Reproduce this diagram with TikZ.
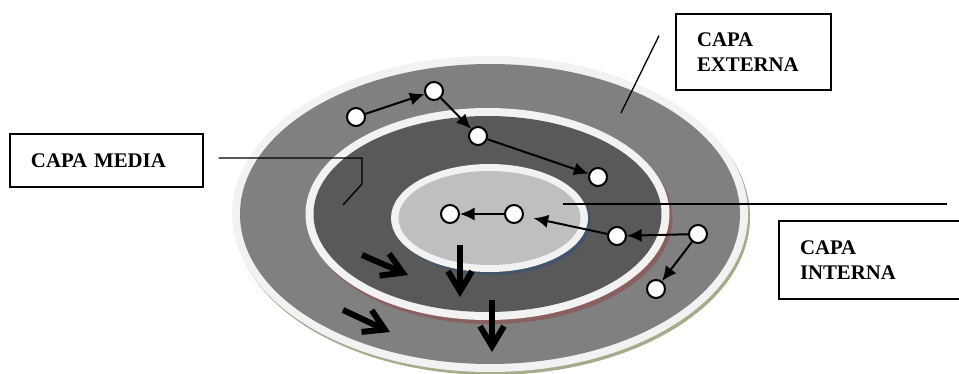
\documentclass[tikz,border=0pt]{standalone}
\usepackage{fontspec}
\setmainfont{Liberation Serif}[BoldFont={Liberation Serif Bold}]
\usetikzlibrary{arrows.meta}
\definecolor{rimwhite}{HTML}{F2F2F2}
\definecolor{outergray}{HTML}{808080}
\definecolor{middlegray}{HTML}{595959}
\definecolor{innergray}{HTML}{BFBFBF}
\definecolor{outershade}{HTML}{A3AD8C}
\definecolor{middleshade}{HTML}{8A5F5F}
\definecolor{innershade}{HTML}{44546A}

\begin{document}
\begin{tikzpicture}[x=0.75pt,y=-0.75pt,
  dot/.style={circle,draw,fill=white,line width=1.5pt,minimum size=13.5pt,inner sep=0pt},
  hop/.style={line width=1.5pt,-{Latex[length=11pt,width=10pt]}},
  flow/.style={line width=4.5pt,-{Straight Barb[length=15pt,width=18pt]}},
  lead/.style={line width=1pt},
  capa/.style={draw,line width=1.5pt,align=left,inner xsep=15.75pt,
    font=\fontsize{15.6}{18.75}\selectfont\bfseries}]
\useasboundingbox (0,0) rectangle (959,374);
\fill[outershade] (492,217) ellipse [x radius=258, y radius=158];
\fill[rimwhite] (490,214) ellipse [x radius=258, y radius=158];
\fill[outergray] (490,214) ellipse [x radius=250, y radius=150];
\fill[middleshade] (490.5,218) ellipse [x radius=182, y radius=106];
\fill[rimwhite] (487.5,214) ellipse [x radius=182, y radius=106];
\fill[middlegray] (487.5,214) ellipse [x radius=174, y radius=98];
\fill[innershade] (492.5,221) ellipse [x radius=98.5, y radius=54];
\fill[rimwhite] (489.5,218) ellipse [x radius=98.5, y radius=54];
\fill[innergray] (489.5,218) ellipse [x radius=91, y radius=47];

\node[capa,text width=113.25pt,minimum height=39.75pt] (media) at (106.5,160.5) {CAPA MEDIA};
\node[capa,text width=84.75pt,minimum height=57pt] (externa) at (753.5,52) {CAPA\\EXTERNA};
\node[capa,text width=111pt,minimum height=58.5pt] (interna) at (874,260) {CAPA\\INTERNA};
\coordinate (mediaend) at (343,205);
\coordinate (externaend) at (621,113);
\coordinate (internaend) at (563,204);
\draw[lead] ([xshift=11pt]media.east |- 0,158) -- (362,158) -- (362,184) -- (mediaend);
\draw[lead] ([xshift=-12pt,yshift=-17pt]externa.north west) -- (externaend);
\draw[lead] (947,204) -- (internaend);

\node[dot] (e1) at (356,117) {};
\node[dot] (e2) at (434,91) {};
\node[dot] (m1) at (478,136) {};
\node[dot] (m2) at (598,177) {};
\node[dot] (i1) at (450,214) {};
\node[dot] (i2) at (514,214) {};
\node[dot] (m3) at (617,236) {};
\node[dot] (e3) at (698,234) {};
\node[dot] (e4) at (656,289) {};
\draw[hop] (e1) -- (e2);
\draw[hop] (e2) -- (m1);
\draw[hop] (m1) -- (m2);
\draw[hop] (i2) -- (i1);
\draw[hop,shorten >=7.5pt] (m3) -- (i2);
\draw[hop] (e3) -- (m3);
\draw[hop] (e3) -- (e4);

\draw[flow] (362,255) -- (408,275);
\draw[flow] (343,310) -- (390,332);
\draw[flow] (460,245) -- (460,297);
\draw[flow] (492,300) -- (492,352);
\end{tikzpicture}
\end{document}
